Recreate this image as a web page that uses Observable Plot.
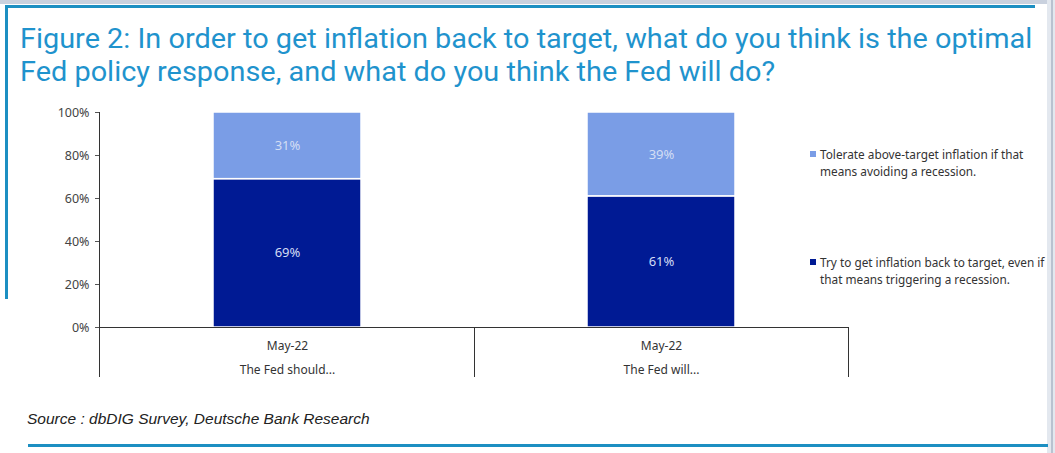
<!DOCTYPE html>
<html>
<head>
<meta charset="utf-8">
<script src="https://cdn.jsdelivr.net/npm/d3@7"></script>
<script src="https://cdn.jsdelivr.net/npm/@observablehq/plot@0.6"></script>
<style>
  html, body { margin: 0; padding: 0; background: #fff; }
  #page { position: relative; width: 1055px; height: 453px; overflow: hidden; background: #fff; }
  .abs { position: absolute; }
  #title { left: 20px; top: 22px; font-family: Roboto, "Liberation Sans", sans-serif; font-size: 27.5px; line-height: 33px;
           color: #1f93cd; white-space: nowrap; transform-origin: left top; transform: scaleX(1.05); }
  #source { left: 27px; top: 410px; font-family: "Liberation Sans", Arial, sans-serif; font-style: italic; font-size: 15.5px; color: #222; }
  .legend { left: 810px; font-family: "Noto Sans", "Open Sans", sans-serif; font-size: 11.8px; line-height: 16.5px; color: #333; white-space: nowrap; }
  .legend .sw { position: absolute; left: 0; top: 5px; width: 6px; height: 6px; }
  .legend .tx { margin-left: 10px; }
</style>
</head>
<body>
<div id="page">
  <div class="abs" style="left:0;top:0;width:1055px;height:4px;background:#c9d1de"></div>
  <div class="abs" style="left:1047px;top:0;width:8px;height:453px;background:#e3e8ef"></div>
  <div class="abs" style="left:1051px;top:0;width:2px;height:453px;background:#b9c2d0"></div>
  <div class="abs" style="left:5px;top:5px;width:1030px;height:3px;background:#1c8fc2"></div>
  <div class="abs" style="left:5px;top:5px;width:3px;height:294px;background:#1c8fc2"></div>
  <div class="abs" style="left:28px;top:444px;width:1020px;height:3px;background:#1c8fc2"></div>
  <div id="title" class="abs">Figure 2: In order to get inflation back to target, what do you think is the optimal<br>Fed policy response, and what do you think the Fed will do?</div>
  <div id="chart" class="abs" style="left:0;top:100px"></div>
  <div class="abs legend" style="top:146px"><span class="sw" style="background:#7a9de6"></span><div class="tx">Tolerate above-target inflation if that<br>means avoiding a recession.</div></div>
  <div class="abs legend" style="top:254px"><span class="sw" style="background:#001a94"></span><div class="tx">Try to get inflation back to target, even if<br>that means triggering a recession.</div></div>
  <div id="source" class="abs">Source : dbDIG Survey, Deutsche Bank Research</div>
</div>
<script>
const categories = ["The Fed should...", "The Fed will..."];
const dateLabels = ["May-22", "May-22"];
const seriesNames = [
  "Try to get inflation back to target, even if that means triggering a recession.",
  "Tolerate above-target inflation if that means avoiding a recession."
];
const seriesColors = ["#001a94", "#7a9de6"];
const tryTarget = [0.69, 0.61];
const tolerate = [0.31, 0.39];
const yTicks = [0, 0.2, 0.4, 0.6, 0.8, 1.0];

const rows = [];
categories.forEach((c, i) => {
  rows.push({cat: c, series: seriesNames[0], value: tryTarget[i]});
  rows.push({cat: c, series: seriesNames[1], value: tolerate[i]});
});

const W = 1055, H = 290;
const mL = 99, mR = 207, mT = 12, mB = 63;

// y-axis line and category separators, derived from the plot frame and y scale
function separators(index, scales, values, dims) {
  const step = (dims.width - dims.marginLeft - dims.marginRight) / categories.length;
  const y0 = scales.y(0);
  const yTop = scales.y(1);
  const g = d3.create("svg:g").attr("stroke", "#333").attr("stroke-width", 1);
  for (let i = 0; i <= categories.length; i++) {
    const v = Math.round(dims.marginLeft + i * step) + 0.5;
    g.append("line").attr("x1", v).attr("x2", v)
      .attr("y1", i === 0 ? yTop : y0).attr("y2", y0 + 50);
  }
  return g.node();
}

const chart = Plot.plot({
  width: W, height: H,
  marginLeft: mL, marginRight: mR, marginTop: mT, marginBottom: mB,
  style: {fontFamily: "'Noto Sans', sans-serif", fontSize: "12px", color: "#444", background: "transparent"},
  x: {domain: categories, paddingInner: 0.605, paddingOuter: 0.3025, label: null},
  y: {domain: [0, 1], label: null},
  color: {domain: seriesNames, range: seriesColors},
  marks: [
    Plot.barY(rows, {x: "cat", y: "value", fill: "series", stroke: "white", strokeWidth: 1.5}),
    Plot.text(rows, Plot.stackY({x: "cat", y: "value", text: d => d3.format(".0%")(d.value),
      fill: "#d4ddf4", fontSize: 13, fontFamily: "'Noto Sans', sans-serif"})),
    Plot.ruleY([0], {stroke: "#333", strokeWidth: 1.2}),
    separators,
    Plot.axisY({ticks: yTicks, tickFormat: d3.format(".0%"), tickSize: 4, tickPadding: 6, fill: "#444", stroke: "#555", fontSize: 12.5}),
    Plot.axisX({tickSize: 0, tickPadding: 6, lineHeight: 1.95, fill: "#333",
      tickFormat: d => dateLabels[categories.indexOf(d)] + "\n" + d})
  ]
});
document.getElementById("chart").appendChild(chart);
</script>
</body>
</html>
